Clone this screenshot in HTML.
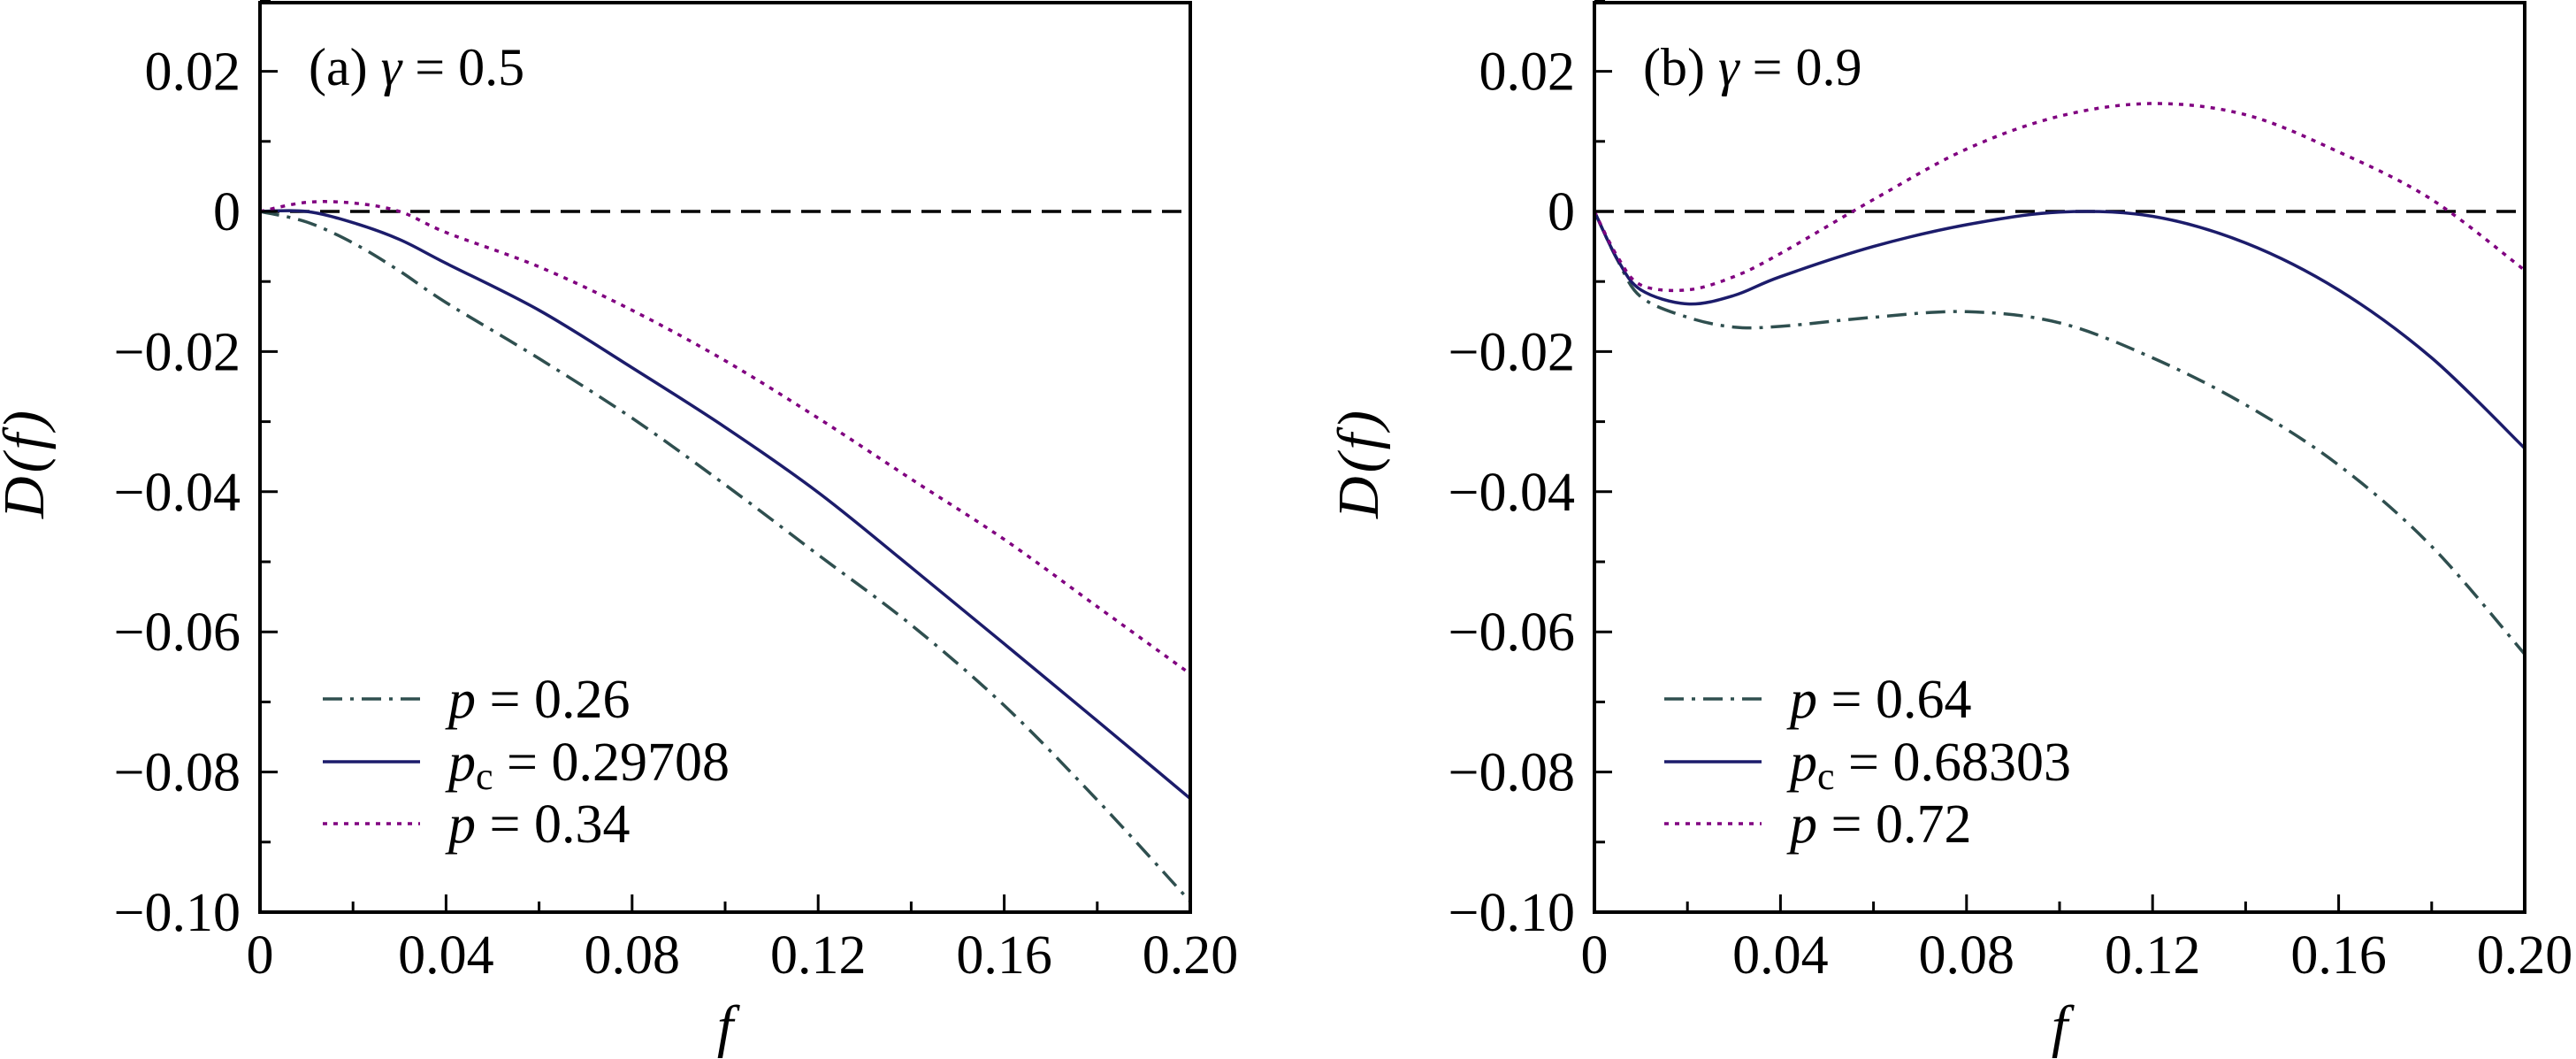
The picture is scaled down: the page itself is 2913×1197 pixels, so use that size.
<!DOCTYPE html>
<html><head><meta charset="utf-8"><style>
html,body{margin:0;padding:0;background:#fff}
svg{display:block}
text{font-family:"Liberation Serif",serif;fill:#000}
</style></head><body>
<svg id="chart" width="2913" height="1197" viewBox="0 0 2913 1197" xmlns="http://www.w3.org/2000/svg"></svg>
<script>
const fA = [0,0.01,0.02,0.03,0.04,0.06,0.08,0.10,0.12,0.14,0.16,0.18,0.20];
const a026 = [0,-0.0015,-0.0045,-0.0085,-0.013,-0.021,-0.0295,-0.039,-0.049,-0.059,-0.0705,-0.084,-0.0985];
const aPc = [0,0,-0.0016,-0.004,-0.0074,-0.0141,-0.0223,-0.0308,-0.0401,-0.0508,-0.0617,-0.0727,-0.0838];
const a034 = [0,0.0013,0.0012,0,-0.003,-0.0079,-0.0141,-0.0213,-0.0295,-0.0382,-0.0468,-0.0564,-0.066];
const fB = [0,0.005,0.01,0.02,0.03,0.04,0.06,0.08,0.10,0.12,0.14,0.16,0.18,0.20];
const b064 = [0,-0.007,-0.0122,-0.0151,-0.0165,-0.0164,-0.0151,-0.0143,-0.0159,-0.0209,-0.0276,-0.0362,-0.0478,-0.0632];
const bPc = [0,-0.0069,-0.0112,-0.0132,-0.012,-0.0093,-0.005,-0.0019,-0.0001,-0.0007,-0.0045,-0.0112,-0.0209,-0.0338];
const b072 = [0,-0.0065,-0.0105,-0.0112,-0.0093,-0.006,0.0017,0.0089,0.0136,0.0154,0.0138,0.0085,0.0017,-0.0084];
const xTicks = [0,0.04,0.08,0.12,0.16,0.20];
const xTickLabels = ["0","0.04","0.08","0.12","0.16","0.20"];
const yTicks = [0.02,0,-0.02,-0.04,-0.06,-0.08,-0.10];
const yTickLabels = ["0.02","0","\u22120.02","\u22120.04","\u22120.06","\u22120.08","\u22120.10"];

const NS="http://www.w3.org/2000/svg";
const svg=document.getElementById('chart');
function mk(tag,attrs,parent){const e=document.createElementNS(NS,tag);for(const k in attrs)e.setAttribute(k,attrs[k]);(parent||svg).appendChild(e);return e;}

const styles={
  dd:{stroke:"#2f4f4f",dash:"22 9 4 9"},
  solid:{stroke:"#1c1c6b",dash:""},
  dot:{stroke:"#800080",dash:"5 7"}
};

function smooth(P){
  let d="M"+P[0][0].toFixed(1)+","+P[0][1].toFixed(1);
  for(let i=0;i<P.length-1;i++){
    const p0=P[Math.max(i-1,0)],p1=P[i],p2=P[i+1],p3=P[Math.min(i+2,P.length-1)];
    const c1=[p1[0]+(p2[0]-p0[0])/6,p1[1]+(p2[1]-p0[1])/6];
    const c2=[p2[0]-(p3[0]-p1[0])/6,p2[1]-(p3[1]-p1[1])/6];
    d+=" C"+c1.map(v=>v.toFixed(1)).join(",")+" "+c2.map(v=>v.toFixed(1)).join(",")+" "+p2.map(v=>v.toFixed(1)).join(",");
  }
  return d;
}

function panel(off,id,title,fs,series,legend){
  const X0=294+off,X1=1346+off,Y0=1031,Ytop=3;
  const xs=f=>X0+f/0.2*(X1-X0);
  const ys=d=>239-d/0.1*792;
  const g=mk('g',{});
  
  
  const z=mk('line',{x1:X0,x2:X1,y1:ys(0),y2:ys(0),stroke:"#000","stroke-width":3.5,"stroke-dasharray":"22 12"},g);
  
  
  series.forEach((s)=>{
    const P=fs.map((f,j)=>[xs(f),ys(s.vals[j])]);
    const st=styles[s.style];
    const pl=mk('path',{d:smooth(P),fill:"none",stroke:st.stroke,"stroke-width":3.5,"stroke-dasharray":st.dash,"stroke-linejoin":"round"},g);
    
    
  });
  for(let v=0;v<=0.2001;v+=0.02){
    const major=Math.abs(Math.round(v/0.04)*0.04-v)<1e-6;
    mk('line',{x1:xs(v),x2:xs(v),y1:Y0,y2:Y0-(major?20:12),stroke:"#000","stroke-width":3},g);
  }
  for(let k=-10;k<=3;k++){
    const v=k/100;const major=k%2===0;
    mk('line',{x1:X0,x2:X0+(major?20:12),y1:ys(v),y2:ys(v),stroke:"#000","stroke-width":3},g);
  }
  xTicks.forEach((v,i)=>{
    const t=mk('text',{x:xs(v),y:1100,"font-size":62,"text-anchor":"middle"},g);
    t.textContent=xTickLabels[i];
    
    
  });
  yTicks.forEach((v,i)=>{
    const t=mk('text',{x:X0-22,y:ys(v)+21,"font-size":62,"text-anchor":"end"},g);
    t.textContent=yTickLabels[i];
    
    
  });
  const fr=mk('rect',{x:X0,y:Ytop,width:X1-X0,height:Y0-Ytop,fill:"none",stroke:"#000","stroke-width":4},g);
  
  
  const tt=mk('text',{x:X0+55,y:96,"font-size":60},g);
  tt.innerHTML=title;
  
  
  const xl=mk('text',{x:(X0+X1)/2,y:1182,"font-size":66,"font-style":"italic","text-anchor":"middle"},g);
  xl.textContent="f";
  
  
  const yl=mk('text',{x:0,y:0,"font-size":66,"font-style":"italic","text-anchor":"middle","letter-spacing":"4",transform:`translate(${X0-245},523) rotate(-90)`},g);
  yl.textContent="D(f)";
  
  
  const lx1=365+off+(id==='b'?8:0), ly=[790,861,931];
  legend.forEach((L,i)=>{
    const lg=mk('g',{},g);
    
    
    const st=styles[L.style];
    mk('line',{x1:lx1,x2:lx1+110,y1:ly[i],y2:ly[i],stroke:st.stroke,"stroke-width":3.5,"stroke-dasharray":st.dash},lg);
    const t=mk('text',{x:lx1+142,y:ly[i]+21,"font-size":62},lg);
    t.innerHTML=L.html;
  });
}
panel(0,'a','(a) <tspan font-style="italic">γ</tspan> = 0.5',fA,
  [{name:'p026',vals:a026,style:'dd'},{name:'pc',vals:aPc,style:'solid'},{name:'p034',vals:a034,style:'dot'}],
  [{style:'dd',html:'<tspan font-style="italic">p</tspan> = 0.26'},
   {style:'solid',html:'<tspan font-style="italic">p</tspan><tspan font-size="44" dy="10">c</tspan><tspan dy="-10"> = 0.29708</tspan>'},
   {style:'dot',html:'<tspan font-style="italic">p</tspan> = 0.34'}]);
panel(1509,'b','(b) <tspan font-style="italic">γ</tspan> = 0.9',fB,
  [{name:'p064',vals:b064,style:'dd'},{name:'pc',vals:bPc,style:'solid'},{name:'p072',vals:b072,style:'dot'}],
  [{style:'dd',html:'<tspan font-style="italic">p</tspan> = 0.64'},
   {style:'solid',html:'<tspan font-style="italic">p</tspan><tspan font-size="44" dy="10">c</tspan><tspan dy="-10"> = 0.68303</tspan>'},
   {style:'dot',html:'<tspan font-style="italic">p</tspan> = 0.72'}]);
</script>
</body></html>
